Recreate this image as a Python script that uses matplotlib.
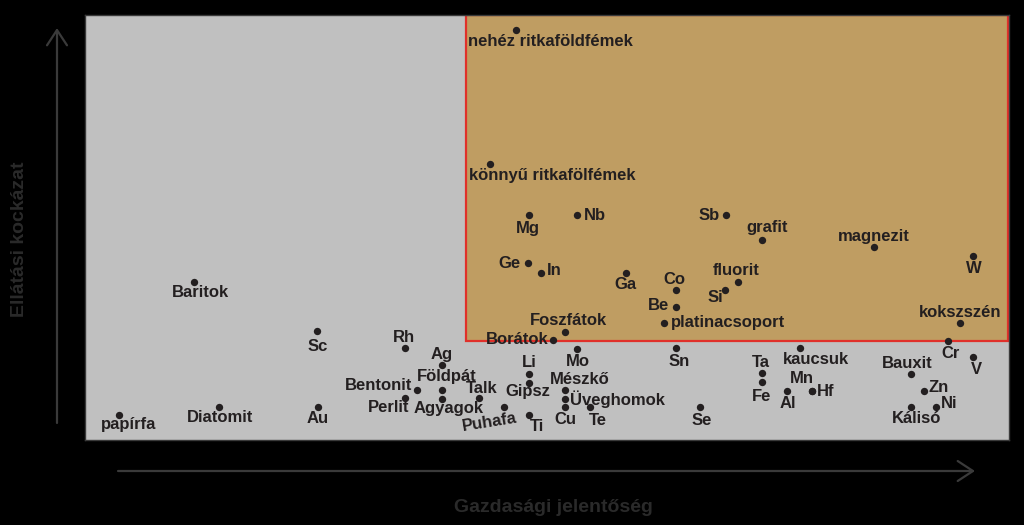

# coding=utf-8
'''
Kritikus nyersanyagok: gazdasagi jelentoseg vs. ellatasi kockazat.
'''
import matplotlib
matplotlib.use("Agg")
import matplotlib.pyplot as plt
from matplotlib.patches import Rectangle, FancyArrowPatch

# data (0-100 scale)
names = ["nehéz ritkaföldfémek", "könnyű ritkafölfémek", "Mg", "Nb", "Sb", "grafit",
         "magnezit", "W", "Ge", "In", "Ga", "Co", "fluorit", "Si", "Be",
         "platinacsoport", "Foszfátok", "Borátok", "kokszszén", "Cr", "Baritok",
         "Sc", "Rh", "Ag", "Bentonit", "Földpát", "Perlit", "Agyagok", "Talk",
         "Puhafa", "Li", "Gipsz", "Ti", "Mo", "Mészkő", "Üveghomok", "Cu", "Te",
         "Sn", "Se", "Ta", "Fe", "kaucsuk", "Al", "Hf", "Mn", "Bauxit", "V",
         "Zn", "Kálisó", "Ni", "Diatomit", "Au", "papírfa"]
econ = [46.6, 43.8, 48.0, 53.3, 69.4, 73.3,
        85.4, 96.1, 47.9, 49.3, 58.6, 64.0, 70.7, 69.3, 64.0,
        62.7, 52.0, 50.6, 94.7, 93.4, 11.8,
        25.1, 34.6, 38.6, 35.9, 38.6, 34.6, 38.6, 42.6,
        45.3, 48.0, 48.0, 48.0, 53.3, 52.0, 52.0, 51.9, 54.7,
        64.0, 66.6, 73.3, 73.3, 77.4, 76.0, 78.7, 78.7, 89.4, 96.1,
        90.8, 89.4, 92.1, 14.5, 25.2, 3.7]
risk = [96.5, 64.9, 52.9, 52.9, 52.9, 47.1,
        45.4, 43.3, 41.6, 39.3, 39.3, 35.3, 37.2, 35.3, 31.3,
        27.5, 25.4, 23.5, 27.5, 23.3, 37.2,
        25.6, 21.6, 17.6, 11.8, 11.8, 9.9, 9.6, 9.9,
        7.8, 15.5, 13.4, 5.9, 21.4, 11.8, 9.6, 7.8, 7.8,
        21.6, 7.8, 15.8, 13.6, 21.6, 11.5, 11.5, 11.5, 15.5, 19.5,
        11.5, 7.8, 7.8, 7.8, 7.8, 5.9]
# kritikus tartomany hatarai
econ_limit = 41.2
risk_limit = 23.3

# label placement: (dx, dy) in pixels, horizontal alignment, rotation
lab_pos = {
    "nehéz ritkaföldfémek": (-48, -12, 'left', 0),
    "könnyű ritkafölfémek": (-21, -11, 'left', 0),
    "Mg": (-1, -13, 'center', 0),
    "Nb": (6, 0, 'left', 0),
    "Sb": (-6, 0, 'right', 0),
    "grafit": (5, 12, 'center', 0),
    "magnezit": (0, 11, 'center', 0),
    "W": (1, -13, 'center', 0),
    "Ge": (-7, 0, 'right', 0),
    "In": (6, 2, 'left', 0),
    "Ga": (-1, -12, 'center', 0),
    "Co": (-2, 10, 'center', 0),
    "fluorit": (-2, 11, 'center', 0),
    "Si": (-10, -8, 'center', 0),
    "Be": (-7, 1, 'right', 0),
    "platinacsoport": (7, 1, 'left', 0),
    "Foszfátok": (3, 12, 'center', 0),
    "Borátok": (-4, 1, 'right', 0),
    "kokszszén": (0, 11, 'center', 0),
    "Cr": (3, -13, 'center', 0),
    "Baritok": (6, -11, 'center', 0),
    "Sc": (1, -15, 'center', 0),
    "Rh": (-1, 11, 'center', 0),
    "Ag": (0, 11, 'center', 0),
    "Bentonit": (-4, 4, 'right', 0),
    "Földpát": (5, 13, 'center', 0),
    "Perlit": (-16, -10, 'center', 0),
    "Agyagok": (7, -9, 'center', 0),
    "Talk": (3, 9, 'center', 0),
    "Puhafa": (-14, -15, 'center', 9),
    "Li": (1, 12, 'center', 0),
    "Gipsz": (-1, -8, 'center', 0),
    "Ti": (8, -12, 'center', 0),
    "Mo": (0, -12, 'center', 0),
    "Mészkő": (14, 10, 'center', 0),
    "Üveghomok": (5, 0, 'left', 0),
    "Cu": (1, -13, 'center', 0),
    "Te": (7, -14, 'center', 0),
    "Sn": (3, -13, 'center', 0),
    "Se": (1, -14, 'center', 0),
    "Ta": (-1, 10, 'center', 0),
    "Fe": (-1, -14, 'center', 0),
    "kaucsuk": (16, -11, 'center', 0),
    "Al": (1, -12, 'center', 0),
    "Hf": (5, 0, 'left', 0),
    "Mn": (-10, 13, 'center', 0),
    "Bauxit": (-4, 11, 'center', 0),
    "V": (3, -12, 'center', 0),
    "Zn": (5, 4, 'left', 0),
    "Kálisó": (6, -12, 'center', 0),
    "Ni": (5, 3, 'left', 0),
    "Diatomit": (1, -11, 'center', 0),
    "Au": (0, -12, 'center', 0),
    "papírfa": (9, -10, 'center', 0),
}

plt.rcParams['font.family'] = ['Liberation Sans', 'DejaVu Sans']
txt_col = '#231f20'

fig = plt.figure(figsize=(10.24, 5.25), dpi=100, facecolor='black')
ax = fig.add_axes([85/1024, 85/525, 924/1024, 425/525])
ax.set_facecolor('#c0c0c0')
ax.set_xlim(0, 100)
ax.set_ylim(0, 100)
ax.set_xticks([])
ax.set_yticks([])
for s in ax.spines.values():
    s.set_color('#3a3a3a')
    s.set_linewidth(1)

# critical zone
ax.add_patch(Rectangle((econ_limit, risk_limit), 100 - econ_limit - 0.15, 100 - risk_limit,
                       facecolor='#bf9d62', edgecolor='#e0302a', linewidth=1.6, zorder=1))

ax.scatter(econ, risk, s=28, color=txt_col, zorder=3, linewidths=0)
for n, x, y in zip(names, econ, risk):
    dx, dy, ha, rot = lab_pos[n]
    ax.annotate(n, (x, y), xytext=(dx, dy), textcoords='offset pixels',
                ha=ha, va='center', fontsize=12, fontweight='bold',
                color=txt_col, rotation=rot, zorder=4)

# axis arrows
arr = dict(arrowstyle='->,head_length=0.55,head_width=0.36', color='#3a3a3a',
           lw=1.6, mutation_scale=20, shrinkA=0, shrinkB=0)
fig.add_artist(FancyArrowPatch((57/1024, 102/525), (57/1024, 497/525),
                               transform=fig.transFigure, **arr))
fig.add_artist(FancyArrowPatch((118/1024, 54/525), (975/1024, 54/525),
                               transform=fig.transFigure, **arr))

fig.text(20/1024, 286/525, 'Ellátási kockázat', rotation=90, ha='center', va='center',
         fontsize=14, fontweight='bold', color='#2a2a2a')
fig.text(553/1024, 17/525, 'Gazdasági jelentőség', ha='center', va='center',
         fontsize=14, fontweight='bold', color='#2a2a2a')

plt.savefig('out.png', dpi=100, facecolor='black')
